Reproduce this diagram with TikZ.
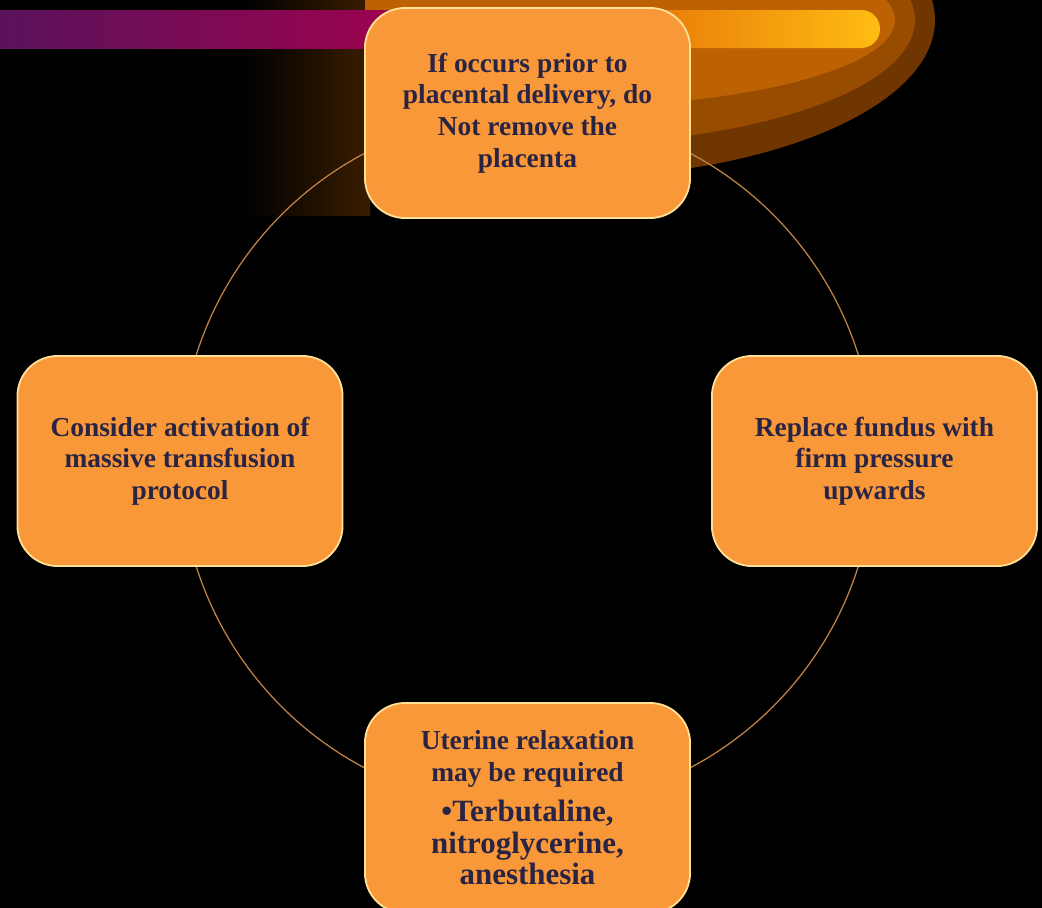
\documentclass[tikz,border=0pt]{standalone}
\usepackage{fontspec}
\setmainfont{Liberation Serif}
\usetikzlibrary{backgrounds}

\definecolor{cardfill}{RGB}{248,152,56}
\definecolor{cardrim}{RGB}{255,224,150}
\definecolor{cardtext}{RGB}{42,36,68}
\definecolor{ringline}{RGB}{190,130,70}
\definecolor{barpurple}{RGB}{90,18,92}
\definecolor{barmagenta}{RGB}{165,0,75}
\definecolor{barorange}{RGB}{228,110,8}
\definecolor{baryellow}{RGB}{255,188,18}
\definecolor{swooshout}{RGB}{112,54,2}
\definecolor{swooshmid}{RGB}{152,76,0}
\definecolor{swooshin}{RGB}{188,98,4}
\definecolor{glow}{RGB}{58,29,0}

\begin{document}
\begin{tikzpicture}[x=0.025cm,y=-0.025cm,
  card/.style={draw=cardrim,line width=1.3pt,fill=cardfill,rounded corners=1cm,
    minimum width=8.125cm,minimum height=5.25cm,align=center,text=cardtext,
    font=\bfseries\fontsize{19.5}{22.5}\selectfont},
  ring/.style={draw=ringline,line width=0.9pt}]
  \useasboundingbox (0,0) rectangle (1042,908);
  \begin{pgfonlayer}{background}
    \fill[black] (0,0) rectangle (1042,908);
    % backdrop: glow, swoosh and bar
    \shade[left color=black,right color=glow] (245,0) rectangle (370,215);
    \begin{scope}
      \clip (365,0) rectangle (1042,240);
      \fill[swooshout] (560,20) ellipse [x radius=375,y radius=158];
      \fill[swooshmid] (560,20) ellipse [x radius=355,y radius=124];
      \fill[swooshin] (560,20) ellipse [x radius=335,y radius=87];
    \end{scope}
    \shade[left color=barpurple,right color=barmagenta] (0,10) rectangle (450,48);
    \shade[left color=barorange,right color=baryellow,rounded corners=0.47cm] (600,10) rectangle (880,48);
  \end{pgfonlayer}

  \node (top) at (527.5,113) [card] {If occurs prior to\\placental delivery, do\\Not remove the\\placenta};
  \node (right) at (874.5,461) [card] {Replace fundus with\\firm pressure\\upwards};
  \node (bottom) at (527.5,808) [card] {Uterine relaxation\\may be required\\[6pt]
    {\fontsize{22}{23}\selectfont \textbullet Terbutaline,}\\{\fontsize{22}{23}\selectfont nitroglycerine,}\\{\fontsize{22}{23}\selectfont anesthesia}};
  \node (left) at (180,461) [card] {Consider activation of\\massive transfusion\\protocol};

  \begin{pgfonlayer}{background}
    \draw[ring] (top.center) to[bend left=45] (right.center) to[bend left=45] (bottom.center)
      to[bend left=45] (left.center) to[bend left=45] (top.center);
  \end{pgfonlayer}
\end{tikzpicture}
\end{document}
